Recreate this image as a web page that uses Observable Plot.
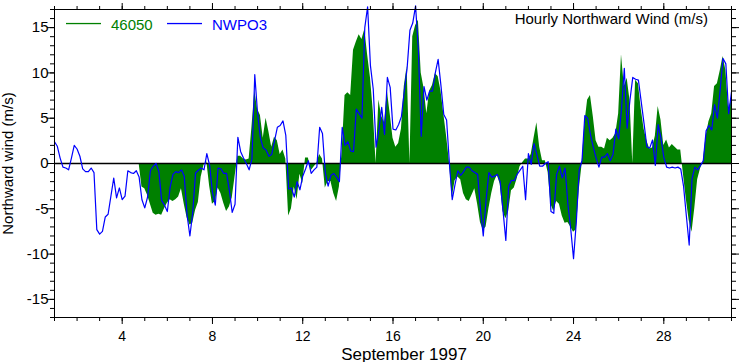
<!DOCTYPE html>
<html><head><meta charset="utf-8">
<script src="https://cdn.jsdelivr.net/npm/d3@7"></script>
<script src="https://cdn.jsdelivr.net/npm/@observablehq/plot@0.6"></script>
<style>
html,body{margin:0;padding:0;background:#fff;}
#chart{width:739px;height:362px;}
</style></head><body><div id="chart"></div>
<script>
// Time axis: day of September 1997, samples every 3 hours from Sep 1 00:00 to Oct 1 00:00
const startDay = 1;
const stepHours = 3;

// NWPO3 hourly northward wind (m/s), read every 3 h
const nwpo3 = [
  2.4, 1.9, 0.6, -0.4, -0.5, -0.7, 0.6, 2.0,
  1.6, 0.8, -0.6, -0.9, -0.9, -0.5, -1.0, -7.3,
  -7.8, -7.5, -5.9, -5.6, -3.6, -1.6, -3.8, -2.7,
  -4.0, -3.6, -0.8, -1.0, -1.1, -0.8, -1.5, -4.0,
  -4.9, -3.7, -0.8, -0.3, 0.0, -0.9, -4.1, -4.6,
  -5.3, -2.6, -1.2, -0.9, -1.0, -0.7, -1.4, -5.7,
  -8.0, -5.4, -1.05, -0.75, -0.5, -0.7, 1.1, -0.2,
  -3.2, -4.6, -0.5, -0.6, -1.1, -1.1, -3.0, -5.4,
  -4.5, 2.9, 1.3, 0.6, 0.0, -0.7, 0.5, 9.8,
  5.5, 2.8, 1.7, 1.5, 0.8, 1.0, 2.5, 4.0,
  4.2, 4.7, 3.1, -2.8, -2.7, -3.7, -2.0, -2.9,
  -1.4, -0.6, 0.3, -1.1, -0.7, -0.4, 4.0, 3.3,
  -1.0, -2.5, -1.3, -1.1, -1.5, -2.0, 4.0, 2.0,
  2.4, 1.4, 1.3, 6.0, 5.5, 5.0, 15.0, 17.3,
  10.8, 8.2, 1.8, 3.7, 6.2, 3.2, 9.5, 8.4,
  3.8, 3.7, 4.3, 5.2, 8.0, 10.5, 14.7, 15.5,
  17.4, 12.5, 3.0, 8.5, 7.0, 8.0, 8.0, 10.0,
  11.5, 8.6, 5.4, 4.8, 0.0, -4.0, -2.3, -0.8,
  -1.3, -0.9, -0.4, -0.4, -0.8, -1.0, -1.2, -5.0,
  -8.0, -4.0, -1.0, -1.5, -1.4, -1.2, -2.0, -5.2,
  -8.5, -2.5, -1.85, -1.9, -1.2, -0.75, -0.3, -4.0,
  1.1, -0.1, 2.2, 1.0, -0.3, -0.3, 0.0, 0.2,
  -5.3, -5.5, -1.2, -0.3, -1.6, -0.5, -4.5, -7.2,
  -10.5, -6.4, -0.7, 0.3, 5.3, 5.0, 3.2, 1.8,
  0.6, -0.4, 0.7, 0.7, 1.1, 0.3, 1.0, 3.8,
  2.7, 6.0, 10.5, 3.9, 7.0, 9.5, 9.3, 9.2,
  6.8, 4.4, 1.85, 1.7, 2.6, -0.2, 4.3, 2.8,
  0.7, -0.4, -0.5, -0.4, -0.5, -0.4, -0.6, -2.5,
  -5.8, -9.0, -1.7, -0.4, -0.7, -0.2, 0.3, 3.6,
  4.2, 3.7, 6.5, 5.0, 8.2, 11.6, 11.0, 5.5,
  7.9
];

// Buoy 46050 hourly northward wind (m/s), read every 3 h (null = missing)
const b46050 = [
  null, null, null, null, null, null, null, null,
  null, null, null, null, null, null, null, null,
  null, null, null, null, null, null, null, null,
  null, null, null, null, null, null, null, -2.6,
  -2.8, -3.5, -4.5, -5.5, -5.7, -5.6, -5.7, -5.0,
  -4.4, -4.0, -4.2, -4.0, -3.7, -2.8, -4.5, -6.0,
  -6.8, -6.6, -5.2, -4.3, -1.5, -0.2, 0.2, -2.5,
  -4.5, -4.2, -2.7, -3.3, -4.4, -5.3, -4.8, -3.8,
  -1.5, 0.8, 0.8, 0.5, 0.4, 0.5, 4.0, 8.0,
  6.0, 5.3, 2.8, 5.0, 3.5, 1.8, 2.9, 2.5,
  1.0, 1.5, 0.5, -5.8, -5.0, -2.6, -4.0, -1.2,
  -2.2, 0.6, 0.6, -0.8, -0.4, 0.0, 1.0, 0.5,
  -2.7, -2.0, -2.0, -3.3, -4.2, -2.6, 1.5, 7.5,
  7.8, 7.5, 12.5, 13.4, 14.2, 13.7, 14.8, 12.0,
  9.5, 5.8, null, 7.0, 5.2, 4.5, 8.0, 5.5,
  2.8, 1.8, 2.2, 3.8, 8.5, 10.7, null, 14.0,
  15.2, 15.8, 10.0, 8.3, 5.5, 8.0, 8.6, 9.9,
  9.6, 8.0, 5.5, 3.0, 0.2, -3.8, -1.9, -1.5,
  -1.8, -3.3, -4.0, -4.2, -3.5, -2.8, -4.5, -6.5,
  -7.4, -7.0, -5.0, -3.3, -2.0, -1.3, -2.3, -5.3,
  -6.1, -5.3, -3.0, -2.7, -1.7, -0.4, 0.1, 0.5,
  0.5, 1.0, 2.8, 4.5, 1.8, 0.3, 0.3, -1.0,
  -4.5, -5.3, -4.2, -4.5, -5.8, -6.6, -6.5, -7.0,
  -7.6, -7.3, -3.0, -0.2, 4.4, 7.0, 7.5, 5.2,
  2.5, 1.8, 1.8, 1.6, 2.8, 2.5, 2.8, 3.3,
  5.5, 12.0, 8.5, 9.4, 7.0, null, 9.2, 8.8,
  6.0, 3.8, 2.5, 1.6, 1.7, 3.0, 6.3, 4.8,
  2.0, 2.6, 1.7, 2.1, 1.8, 1.5, 1.5, -1.3,
  -4.0, -6.3, -7.6, -4.9, -1.8, -0.6, 0.2, 3.0,
  4.6, 5.5, 8.5, 8.8, 10.2, 11.8, 10.3, 6.0,
  7.0
];

const xMajorTicks = [4, 8, 12, 16, 20, 24, 28];
const xMinorTicks = d3.range(1, 32);
const yMajorTicks = [-15, -10, -5, 0, 5, 10, 15];
const yMinorTicks = d3.range(-17, 18);
const seriesNames = ["46050", "NWPO3"];
const seriesColors = ["#008000", "#0000ff"];
const titleText = "Hourly Northward Wind (m/s)";
const xLabel = "September 1997";
const yLabel = "Northward wind (m/s)";

const toRows = arr => arr.map((v, i) => ({t: startDay + i * stepHours / 24, v}));
const FONT = "'Liberation Sans', Arial, Helvetica, sans-serif";
const blank = () => "";

const chart = Plot.plot({
  width: 739, height: 362,
  marginLeft: 54, marginRight: 8, marginTop: 9, marginBottom: 45,
  style: {fontFamily: FONT, background: "white", color: "black", overflow: "visible"},
  x: {domain: [1, 31]},
  y: {domain: [-17, 17]},
  marks: [
    Plot.areaY(toRows(b46050), {x: "t", y: "v", fill: seriesColors[0]}),
    Plot.ruleY([0], {stroke: "black", strokeWidth: 1.5}),
    Plot.lineY(toRows(nwpo3), {x: "t", y: "v", stroke: seriesColors[1], strokeWidth: 1.2}),
    Plot.frame({stroke: "black"}),
    Plot.axisX({ticks: xMajorTicks, anchor: "bottom", tickSize: 7, tickPadding: 7, fontSize: 14, label: null, tickFormat: d => String(d)}),
    Plot.axisX({ticks: xMinorTicks, anchor: "bottom", tickSize: 4, label: null, tickFormat: blank}),
    Plot.axisX({ticks: xMajorTicks, anchor: "top", tickSize: 7, label: null, tickFormat: blank}),
    Plot.axisX({ticks: xMinorTicks, anchor: "top", tickSize: 4, label: null, tickFormat: blank}),
    Plot.axisY({ticks: yMajorTicks, anchor: "left", tickSize: 7, tickPadding: -1, fontSize: 15, label: null, tickFormat: d => String(d)}),
    Plot.axisY({ticks: yMinorTicks, anchor: "left", tickSize: 4, label: null, tickFormat: blank}),
    Plot.axisY({ticks: yMajorTicks, anchor: "right", tickSize: 7, label: null, tickFormat: blank}),
    Plot.axisY({ticks: yMinorTicks, anchor: "right", tickSize: 4, label: null, tickFormat: blank})
  ]
});

const svg = d3.select(chart);
const deco = svg.append("g").attr("font-family", FONT).attr("text-anchor", "start")
  .attr("stroke", "none");
// legend: short colour swatch lines, then the series name in its colour
const legend = [{x: 66, c: seriesColors[0], n: seriesNames[0]}, {x: 167, c: seriesColors[1], n: seriesNames[1]}];
legend.forEach(l => {
  deco.append("rect").attr("x", l.x).attr("y", 22.9).attr("width", 35).attr("height", 1.3)
    .attr("fill", l.c).attr("stroke", "none");
  deco.append("text").attr("x", l.x + 45).attr("y", 29.5).attr("text-anchor", "start")
    .attr("font-size", 15).attr("fill", l.c).text(l.n);
});
deco.append("text").attr("x", 708).attr("y", 24).attr("text-anchor", "end").attr("font-size", 15).attr("fill", "black").text(titleText);
deco.append("text").attr("x", 404).attr("y", 359.5).attr("text-anchor", "middle").attr("font-size", 17).attr("fill", "black").text(xLabel);
deco.append("text").attr("transform", "translate(12.5,163.5) rotate(-90)").attr("text-anchor", "middle").attr("font-size", 15).attr("fill", "black").text(yLabel);

document.getElementById("chart").appendChild(chart);
</script></body></html>
